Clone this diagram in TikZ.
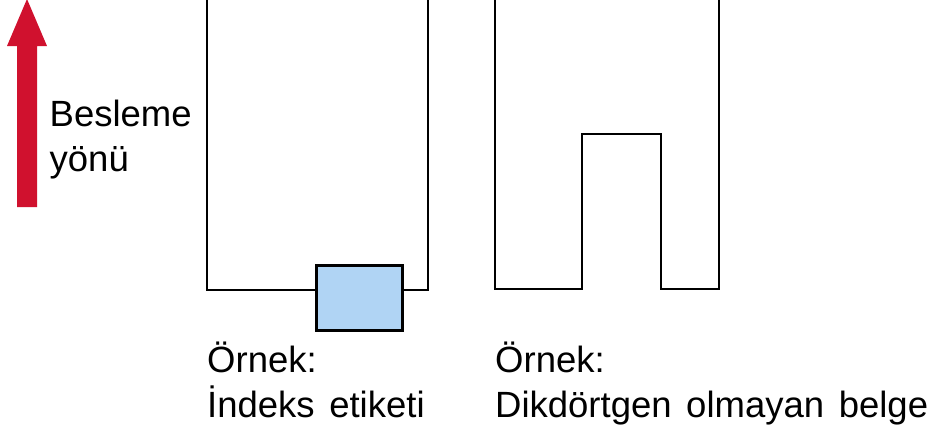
\documentclass[tikz,border=0pt]{standalone}
\usepackage{fontspec}
\setmainfont{Liberation Sans}
\definecolor{feedred}{RGB}{208,17,46}
\definecolor{labelblue}{RGB}{176,212,244}
\newcommand{\lblfont}{\fontsize{36.5}{45}\selectfont\setlength{\spaceskip}{0.4em}}
\begin{document}
\begin{tikzpicture}[x=1pt,y=-1pt,
  outline/.style={draw=black,line width=2.8pt,line join=miter},
  lbl/.style={anchor=base west,inner sep=0pt,font=\lblfont}]
\useasboundingbox (0,0) rectangle (929,434);
\clip (0,0) rectangle (929,434);
% feed direction arrow
\fill[feedred] (17,207) -- (17,46) -- (7,46) -- (27,-1) -- (47,46) -- (37,46) -- (37,207) -- cycle;
\node[lbl] (b1) at (49.5,126) {Besleme};
\node[lbl] (b2) at (49.5,171) {yönü};
% left document with index label
\coordinate (l1) at (207,-5);
\coordinate (l2) at (207,290);
\coordinate (l3) at (315,290);
\coordinate (l4) at (401,290);
\coordinate (l5) at (428,290);
\coordinate (l6) at (428,-5);
\draw[outline] (l1) -- (l2) -- (l3);
\draw[outline] (l4) -- (l5) -- (l6);
\node[outline,fill=labelblue,minimum width=86pt,minimum height=65pt,inner sep=0pt,anchor=north west] (tab) at (315,264) {};
\node[lbl] (t1) at (207,372) {Örnek:};
\node[lbl] (t2) at (207,417) {İndeks etiketi};
% right non-rectangular document
\draw[outline] (495,-5) -- (495,289) -- (582,289) -- (582,134) -- (661,134) -- (661,289) -- (719,289) -- (719,-5);
\node[lbl] (r1) at (495,372) {Örnek:};
\node[lbl] (r2) at (495,417) {Dikdörtgen olmayan belge};
\end{tikzpicture}
\end{document}
